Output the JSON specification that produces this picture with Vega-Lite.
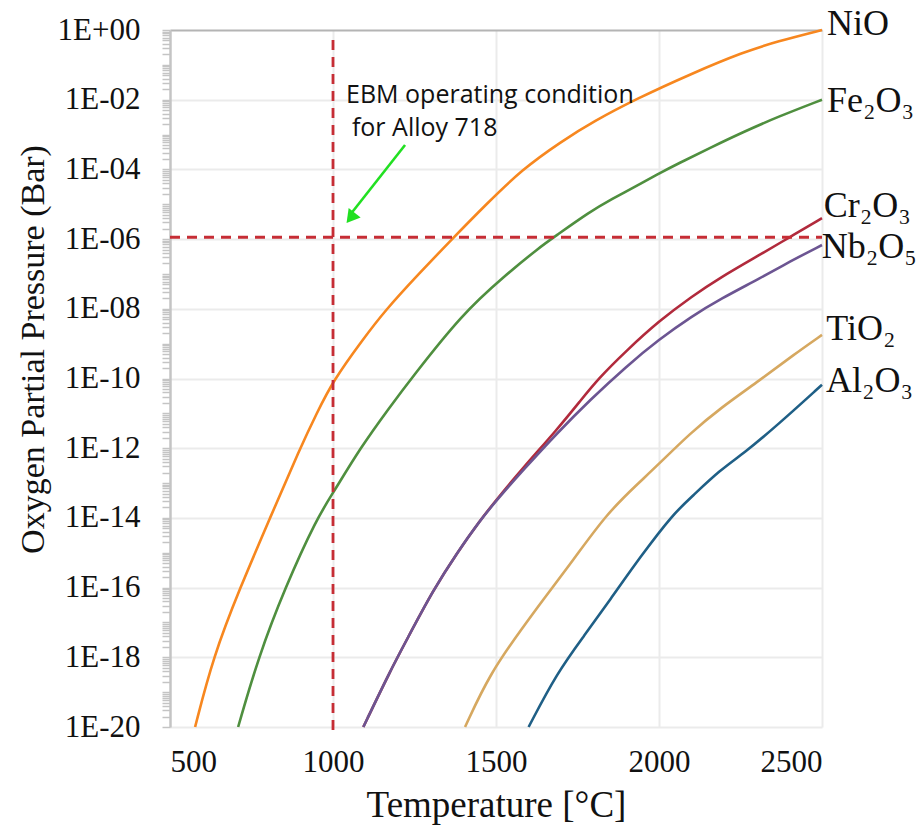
{
  "$schema": "https://vega.github.io/schema/vega-lite/v6.json",
  "autosize": "none",
  "width": 652,
  "height": 697,
  "padding": {"left": 170, "top": 30, "right": 96, "bottom": 105},
  "background": "white",
  "config": {"view": {"stroke": null}},
  "datasets": {
    "curves": [
      {"oxide": "NiO", "T": 577, "p": 1e-20},
      {"oxide": "NiO", "T": 632, "p": 1e-18},
      {"oxide": "NiO", "T": 715, "p": 1e-16},
      {"oxide": "NiO", "T": 807, "p": 1e-14},
      {"oxide": "NiO", "T": 899, "p": 1e-12},
      {"oxide": "NiO", "T": 950, "p": 1e-11},
      {"oxide": "NiO", "T": 1000, "p": 8.5e-11},
      {"oxide": "NiO", "T": 1090, "p": 1.26e-9},
      {"oxide": "NiO", "T": 1160, "p": 9e-9},
      {"oxide": "NiO", "T": 1263, "p": 1e-7},
      {"oxide": "NiO", "T": 1365, "p": 1e-6},
      {"oxide": "NiO", "T": 1470, "p": 1e-5},
      {"oxide": "NiO", "T": 1580, "p": 1e-4},
      {"oxide": "NiO", "T": 1700, "p": 6.31e-4},
      {"oxide": "NiO", "T": 1800, "p": 2.4e-3},
      {"oxide": "NiO", "T": 1930, "p": 1.05e-2},
      {"oxide": "NiO", "T": 2100, "p": 5.62e-2},
      {"oxide": "NiO", "T": 2260, "p": 0.234},
      {"oxide": "NiO", "T": 2362, "p": 0.468},
      {"oxide": "NiO", "T": 2500, "p": 1},
      {"oxide": "Fe2O3", "T": 709, "p": 1e-20},
      {"oxide": "Fe2O3", "T": 771, "p": 1e-18},
      {"oxide": "Fe2O3", "T": 853, "p": 1e-16},
      {"oxide": "Fe2O3", "T": 951, "p": 1e-14},
      {"oxide": "Fe2O3", "T": 1000, "p": 5.13e-14},
      {"oxide": "Fe2O3", "T": 1083, "p": 1e-12},
      {"oxide": "Fe2O3", "T": 1175, "p": 1.55e-11},
      {"oxide": "Fe2O3", "T": 1240, "p": 1e-10},
      {"oxide": "Fe2O3", "T": 1396, "p": 7.08e-9},
      {"oxide": "Fe2O3", "T": 1523, "p": 8.32e-8},
      {"oxide": "Fe2O3", "T": 1636, "p": 6.03e-7},
      {"oxide": "Fe2O3", "T": 1677, "p": 1.12e-6},
      {"oxide": "Fe2O3", "T": 1789, "p": 6.17e-6},
      {"oxide": "Fe2O3", "T": 1850, "p": 1.32e-5},
      {"oxide": "Fe2O3", "T": 1953, "p": 4.37e-5},
      {"oxide": "Fe2O3", "T": 2000, "p": 7.59e-5},
      {"oxide": "Fe2O3", "T": 2055, "p": 1.41e-4},
      {"oxide": "Fe2O3", "T": 2157, "p": 4.17e-4},
      {"oxide": "Fe2O3", "T": 2260, "p": 1.2e-3},
      {"oxide": "Fe2O3", "T": 2362, "p": 3.16e-3},
      {"oxide": "Fe2O3", "T": 2500, "p": 1e-2},
      {"oxide": "Cr2O3", "T": 1093, "p": 1e-20},
      {"oxide": "Cr2O3", "T": 1175, "p": 3.98e-19},
      {"oxide": "Cr2O3", "T": 1226, "p": 3.16e-18},
      {"oxide": "Cr2O3", "T": 1308, "p": 8.71e-17},
      {"oxide": "Cr2O3", "T": 1380, "p": 9.77e-16},
      {"oxide": "Cr2O3", "T": 1452, "p": 8.71e-15},
      {"oxide": "Cr2O3", "T": 1503, "p": 3.47e-14},
      {"oxide": "Cr2O3", "T": 1584, "p": 2.82e-13},
      {"oxide": "Cr2O3", "T": 1687, "p": 3.39e-12},
      {"oxide": "Cr2O3", "T": 1758, "p": 2.24e-11},
      {"oxide": "Cr2O3", "T": 1814, "p": 1e-10},
      {"oxide": "Cr2O3", "T": 1900, "p": 6.31e-10},
      {"oxide": "Cr2O3", "T": 2000, "p": 4.47e-9},
      {"oxide": "Cr2O3", "T": 2100, "p": 2.24e-8},
      {"oxide": "Cr2O3", "T": 2188, "p": 7.94e-8},
      {"oxide": "Cr2O3", "T": 2311, "p": 3.63e-7},
      {"oxide": "Cr2O3", "T": 2400, "p": 1.12e-6},
      {"oxide": "Cr2O3", "T": 2500, "p": 3.98e-6},
      {"oxide": "Nb2O5", "T": 1093, "p": 1e-20},
      {"oxide": "Nb2O5", "T": 1175, "p": 3.98e-19},
      {"oxide": "Nb2O5", "T": 1226, "p": 3.16e-18},
      {"oxide": "Nb2O5", "T": 1308, "p": 8.71e-17},
      {"oxide": "Nb2O5", "T": 1380, "p": 9.77e-16},
      {"oxide": "Nb2O5", "T": 1452, "p": 8.71e-15},
      {"oxide": "Nb2O5", "T": 1503, "p": 3.31e-14},
      {"oxide": "Nb2O5", "T": 1584, "p": 2.4e-13},
      {"oxide": "Nb2O5", "T": 1687, "p": 2.69e-12},
      {"oxide": "Nb2O5", "T": 1789, "p": 2.45e-11},
      {"oxide": "Nb2O5", "T": 1900, "p": 2.24e-10},
      {"oxide": "Nb2O5", "T": 2000, "p": 1.32e-9},
      {"oxide": "Nb2O5", "T": 2100, "p": 6.03e-9},
      {"oxide": "Nb2O5", "T": 2188, "p": 1.91e-8},
      {"oxide": "Nb2O5", "T": 2311, "p": 7.59e-8},
      {"oxide": "Nb2O5", "T": 2400, "p": 2.24e-7},
      {"oxide": "Nb2O5", "T": 2500, "p": 6.76e-7},
      {"oxide": "TiO2", "T": 1405, "p": 1e-20},
      {"oxide": "TiO2", "T": 1482, "p": 3.55e-19},
      {"oxide": "TiO2", "T": 1584, "p": 7.59e-18},
      {"oxide": "TiO2", "T": 1636, "p": 3.55e-17},
      {"oxide": "TiO2", "T": 1738, "p": 6.31e-16},
      {"oxide": "TiO2", "T": 1840, "p": 1.35e-14},
      {"oxide": "TiO2", "T": 1943, "p": 1.12e-13},
      {"oxide": "TiO2", "T": 2000, "p": 3.55e-13},
      {"oxide": "TiO2", "T": 2096, "p": 2.69e-12},
      {"oxide": "TiO2", "T": 2188, "p": 1.41e-11},
      {"oxide": "TiO2", "T": 2311, "p": 9.12e-11},
      {"oxide": "TiO2", "T": 2413, "p": 4.79e-10},
      {"oxide": "TiO2", "T": 2500, "p": 1.78e-9},
      {"oxide": "Al2O3", "T": 1600, "p": 1e-20},
      {"oxide": "Al2O3", "T": 1687, "p": 3.55e-19},
      {"oxide": "Al2O3", "T": 1769, "p": 3.98e-18},
      {"oxide": "Al2O3", "T": 1850, "p": 4.47e-17},
      {"oxide": "Al2O3", "T": 1943, "p": 7.76e-16},
      {"oxide": "Al2O3", "T": 2045, "p": 1.35e-14},
      {"oxide": "Al2O3", "T": 2100, "p": 3.98e-14},
      {"oxide": "Al2O3", "T": 2188, "p": 2.4e-13},
      {"oxide": "Al2O3", "T": 2260, "p": 7.08e-13},
      {"oxide": "Al2O3", "T": 2362, "p": 4.47e-12},
      {"oxide": "Al2O3", "T": 2500, "p": 6.61e-11}
    ],
    "dashed": [
      {"T": 500, "p": 1.13e-6, "T2": 2500, "p2": 1.13e-6},
      {"T": 1000, "p": 0.516, "T2": 1000, "p2": 6.8e-21}
    ],
    "arrow": [
      {"T": 1221, "p": 5.0e-4, "T2": 1052, "p2": 4.93e-6}
    ],
    "arrowhead": [
      {"T": 1054, "p": 4.05e-6}
    ],
    "note": [
      {"text": "EBM operating condition", "T": 1040, "p": 7.9e-3},
      {"text": "for Alloy 718", "T": 1058, "p": 9.1e-4}
    ],
    "labels": [
      {"text": "NiO", "T": 2500, "p": 0.719},
      {"text": "Fe₂O₃", "T": 2500, "p": 4.44e-3},
      {"text": "Cr₂O₃", "T": 2490, "p": 4.32e-6},
      {"text": "Nb₂O₅", "T": 2484, "p": 2.88e-7},
      {"text": "TiO₂", "T": 2498, "p": 1.28e-9},
      {"text": "Al₂O₃", "T": 2497, "p": 4.12e-11}
    ]
  },
  "layer": [
    {
      "data": {"name": "curves"},
      "mark": {"type": "line", "strokeWidth": 2.6, "interpolate": "basis", "clip": false},
      "encoding": {
        "x": {
          "field": "T", "type": "quantitative",
          "scale": {"domain": [500, 2500], "nice": false, "zero": false},
          "axis": {
            "values": [500, 1000, 1500, 2000, 2500],
            "format": "d",
            "title": "Temperature [°C]",
            "titleFont": "Liberation Serif", "titleFontSize": 37, "titleFontWeight": "normal", "titleColor": "#111",
            "titlePadding": 10,
            "labelFont": "Liberation Serif", "labelFontSize": 31, "labelColor": "#111",
            "labelPadding": 20, "ticks": false, "domain": false,
            "grid": true,
            "gridColor": "#ebebeb", "gridWidth": 2,
            "gridOpacity": {"condition": {"test": "datum.value > 600", "value": 1}, "value": 0},
            "labelOverlap": false
          }
        },
        "y": {
          "field": "p", "type": "quantitative",
          "scale": {"type": "log", "domain": [1e-20, 1], "nice": false},
          "axis": {
            "values": [1e-20,2e-20,3e-20,4e-20,5e-20,6e-20,7e-20,8e-20,9e-20,
                       1e-19,2e-19,3e-19,4e-19,5e-19,6e-19,7e-19,8e-19,9e-19,
                       1e-18,2e-18,3e-18,4e-18,5e-18,6e-18,7e-18,8e-18,9e-18,
                       1e-17,2e-17,3e-17,4e-17,5e-17,6e-17,7e-17,8e-17,9e-17,
                       1e-16,2e-16,3e-16,4e-16,5e-16,6e-16,7e-16,8e-16,9e-16,
                       1e-15,2e-15,3e-15,4e-15,5e-15,6e-15,7e-15,8e-15,9e-15,
                       1e-14,2e-14,3e-14,4e-14,5e-14,6e-14,7e-14,8e-14,9e-14,
                       1e-13,2e-13,3e-13,4e-13,5e-13,6e-13,7e-13,8e-13,9e-13,
                       1e-12,2e-12,3e-12,4e-12,5e-12,6e-12,7e-12,8e-12,9e-12,
                       1e-11,2e-11,3e-11,4e-11,5e-11,6e-11,7e-11,8e-11,9e-11,
                       1e-10,2e-10,3e-10,4e-10,5e-10,6e-10,7e-10,8e-10,9e-10,
                       1e-9,2e-9,3e-9,4e-9,5e-9,6e-9,7e-9,8e-9,9e-9,
                       1e-8,2e-8,3e-8,4e-8,5e-8,6e-8,7e-8,8e-8,9e-8,
                       1e-7,2e-7,3e-7,4e-7,5e-7,6e-7,7e-7,8e-7,9e-7,
                       1e-6,2e-6,3e-6,4e-6,5e-6,6e-6,7e-6,8e-6,9e-6,
                       1e-5,2e-5,3e-5,4e-5,5e-5,6e-5,7e-5,8e-5,9e-5,
                       1e-4,2e-4,3e-4,4e-4,5e-4,6e-4,7e-4,8e-4,9e-4,
                       1e-3,2e-3,3e-3,4e-3,5e-3,6e-3,7e-3,8e-3,9e-3,
                       1e-2,2e-2,3e-2,4e-2,5e-2,6e-2,7e-2,8e-2,9e-2,
                       0.1,0.2,0.3,0.4,0.5,0.6,0.7,0.8,0.9,1],
            "labelExpr": "(abs(log(datum.value)/LN10 - round(log(datum.value)/LN10)) > 0.001 || round(log(datum.value)/LN10) % 2 != 0) ? '' : (round(log(datum.value)/LN10) == 0 ? '1E+00' : '1E-' + (round(-log(datum.value)/LN10) < 10 ? '0' : '') + round(-log(datum.value)/LN10))",
            "title": "Oxygen Partial Pressure (Bar)",
            "titleFont": "Liberation Serif", "titleFontSize": 34, "titleFontWeight": "normal", "titleColor": "#111",
            "titlePadding": 7,
            "titleY": 319,
            "labelFont": "Liberation Serif", "labelFontSize": 31, "labelColor": "#111",
            "labelPadding": 22, "labelOverlap": false, "labelBound": false, "labelFlush": false,
            "tickSize": 8, "tickColor": "#c4c4c4", "tickWidth": 1.5,
            "domain": true, "domainColor": "#c4c4c4", "domainWidth": 2.5,
            "grid": true,
            "gridWidth": 2,
            "gridColor": {"condition": {"test": "datum.value > 0.999", "value": "#b4b4b4"}, "value": "#ebebeb"},
            "gridOpacity": {"condition": {"test": "abs(log(datum.value)/LN10 - round(log(datum.value)/LN10)) < 0.001 && round(log(datum.value)/LN10) % 2 == 0", "value": 1}, "value": 0}
          }
        },
        "color": {
          "field": "oxide", "type": "nominal", "legend": null,
          "scale": {
            "domain": ["NiO", "Fe2O3", "Cr2O3", "Nb2O5", "TiO2", "Al2O3"],
            "range": ["#f7871f", "#4f8f3f", "#b12a3c", "#6c5592", "#d6a860", "#1f5f86"]
          }
        }
      }
    },
    {
      "data": {"name": "dashed"},
      "mark": {"type": "rule", "color": "#c62d35", "strokeWidth": 2.8, "strokeDash": [10, 7], "clip": false},
      "encoding": {
        "x": {"field": "T", "type": "quantitative"},
        "y": {"field": "p", "type": "quantitative"},
        "x2": {"field": "T2"},
        "y2": {"field": "p2"}
      }
    },
    {
      "data": {"name": "arrow"},
      "mark": {"type": "rule", "color": "#22e022", "strokeWidth": 2.6},
      "encoding": {
        "x": {"field": "T", "type": "quantitative"},
        "y": {"field": "p", "type": "quantitative"},
        "x2": {"field": "T2"},
        "y2": {"field": "p2"}
      }
    },
    {
      "data": {"name": "arrowhead"},
      "mark": {"type": "point", "shape": "triangle-up", "filled": true, "color": "#22e022", "size": 230, "angle": 218, "opacity": 1},
      "encoding": {
        "x": {"field": "T", "type": "quantitative"},
        "y": {"field": "p", "type": "quantitative"}
      }
    },
    {
      "data": {"name": "note"},
      "mark": {"type": "text", "align": "left", "baseline": "alphabetic", "font": "Open Sans", "fontSize": 25, "color": "#111"},
      "encoding": {
        "x": {"field": "T", "type": "quantitative"},
        "y": {"field": "p", "type": "quantitative"},
        "text": {"field": "text"}
      }
    },
    {
      "data": {"name": "labels"},
      "mark": {"type": "text", "align": "left", "baseline": "alphabetic", "dx": 5, "font": "Liberation Serif", "fontSize": 36, "color": "#111"},
      "encoding": {
        "x": {"field": "T", "type": "quantitative"},
        "y": {"field": "p", "type": "quantitative"},
        "text": {"field": "text"}
      }
    }
  ]
}
